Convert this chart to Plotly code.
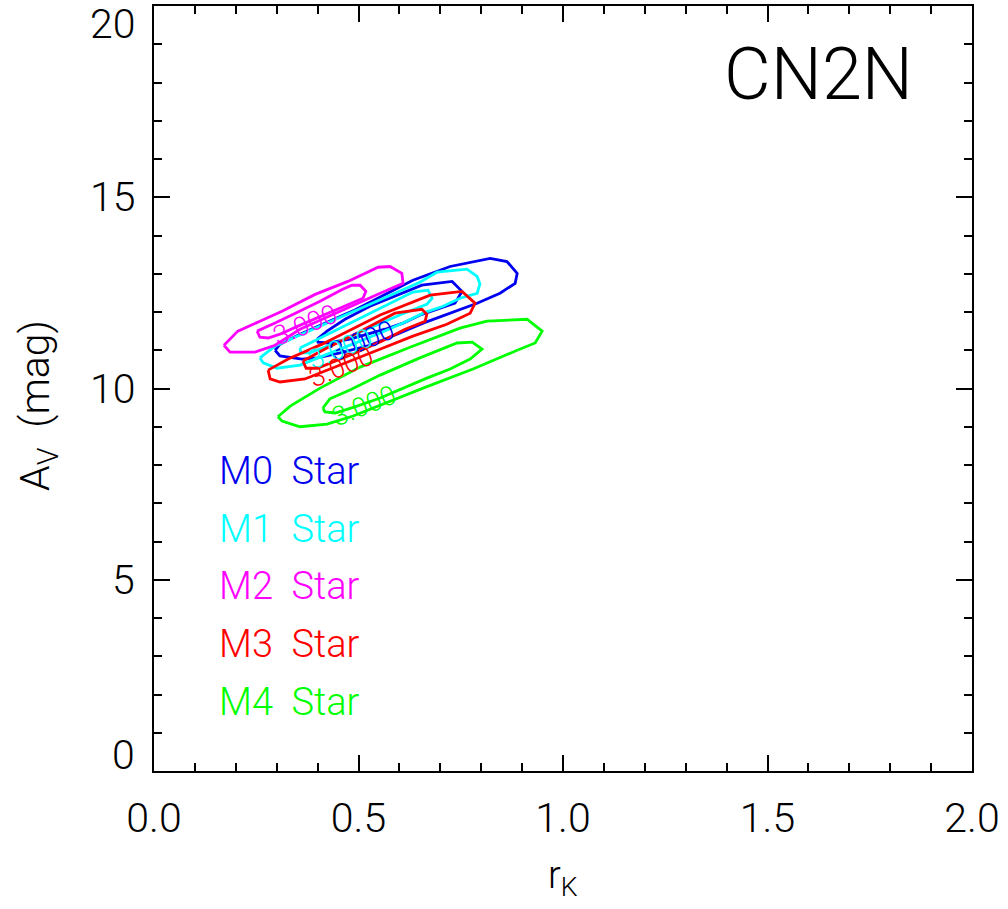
import plotly.graph_objects as go

# Confidence contours (r_K, A_V) for each spectral type: outer and inner level
M0_OUTER = [(0.296, 11.00), (0.308, 11.16), (0.357, 11.42), (0.430, 11.76), (0.491, 12.05),
            (0.553, 12.39), (0.633, 12.83), (0.724, 13.19), (0.822, 13.40), (0.863, 13.32),
            (0.888, 13.01), (0.883, 12.75), (0.846, 12.49), (0.790, 12.23), (0.716, 11.94),
            (0.658, 11.71), (0.594, 11.42), (0.528, 11.13), (0.455, 10.93), (0.399, 10.80),
            (0.362, 10.77), (0.308, 10.85)]
M0_INNER = [(0.399, 11.29), (0.423, 11.50), (0.467, 11.81), (0.528, 12.15), (0.655, 12.70),
            (0.729, 12.80), (0.753, 12.54), (0.736, 12.23), (0.655, 11.94), (0.609, 11.71),
            (0.565, 11.55), (0.479, 11.29), (0.425, 11.19), (0.401, 11.21)]

M1_OUTER = [(0.259, 10.80), (0.296, 11.11), (0.357, 11.40), (0.455, 11.86), (0.553, 12.33),
            (0.650, 12.78), (0.692, 13.04), (0.765, 13.12), (0.790, 12.93), (0.797, 12.73),
            (0.790, 12.49), (0.748, 12.36), (0.707, 12.15), (0.658, 11.97), (0.609, 11.71),
            (0.553, 11.45), (0.455, 11.03), (0.357, 10.61), (0.301, 10.53), (0.267, 10.67)]
M1_INNER = [(0.357, 11.06), (0.406, 11.32), (0.479, 11.71), (0.553, 12.10), (0.633, 12.52),
            (0.670, 12.57), (0.680, 12.36), (0.667, 12.20), (0.601, 11.92), (0.528, 11.58),
            (0.455, 11.24), (0.381, 10.93), (0.359, 10.93)]

M2_OUTER = [(0.171, 11.13), (0.205, 11.50), (0.259, 11.76), (0.313, 12.02), (0.394, 12.46),
            (0.474, 12.80), (0.548, 13.17), (0.577, 13.19), (0.606, 13.01), (0.609, 12.75),
            (0.553, 12.49), (0.455, 12.02), (0.357, 11.55), (0.296, 11.13), (0.247, 10.95),
            (0.186, 10.95)]
M2_INNER = [(0.252, 11.50), (0.296, 11.71), (0.352, 12.00), (0.406, 12.28), (0.460, 12.59),
            (0.484, 12.70), (0.504, 12.70), (0.518, 12.54), (0.511, 12.36), (0.460, 12.13),
            (0.406, 11.89), (0.352, 11.63), (0.308, 11.42), (0.279, 11.32), (0.259, 11.34)]

M3_OUTER = [(0.279, 10.48), (0.328, 10.77), (0.411, 11.16), (0.491, 11.60), (0.553, 11.92),
            (0.675, 12.44), (0.753, 12.54), (0.785, 12.23), (0.773, 11.97), (0.716, 11.68),
            (0.633, 11.37), (0.560, 11.06), (0.479, 10.72), (0.369, 10.25), (0.308, 10.17),
            (0.284, 10.25)]
M3_INNER = [(0.364, 10.72), (0.418, 11.03), (0.491, 11.42), (0.589, 11.97), (0.655, 12.07),
            (0.667, 11.94), (0.663, 11.76), (0.614, 11.55), (0.558, 11.24), (0.479, 10.87),
            (0.399, 10.53), (0.372, 10.53)]

M4_OUTER = [(0.303, 9.26), (0.333, 9.54), (0.406, 10.01), (0.504, 10.56), (0.626, 11.08),
            (0.748, 11.58), (0.814, 11.76), (0.912, 11.81), (0.949, 11.50), (0.932, 11.19),
            (0.888, 11.00), (0.780, 10.51), (0.658, 10.01), (0.553, 9.57), (0.487, 9.28),
            (0.423, 9.07), (0.357, 9.00), (0.313, 9.15)]
M4_INNER = [(0.413, 9.49), (0.430, 9.73), (0.479, 9.96), (0.553, 10.35), (0.650, 10.80),
            (0.741, 11.19), (0.778, 11.21), (0.802, 11.03), (0.773, 10.77), (0.724, 10.51),
            (0.667, 10.27), (0.609, 10.01), (0.553, 9.75), (0.491, 9.52), (0.443, 9.36),
            (0.418, 9.39)]

STAR_NAMES = ["M0", "M1", "M2", "M3", "M4"]
STAR_COLORS = ["#0000F0", "#00FFFF", "#FF00FF", "#FF0000", "#00FF00"]
CONTOURS = [(M0_OUTER, M0_INNER), (M1_OUTER, M1_INNER), (M2_OUTER, M2_INNER),
            (M3_OUTER, M3_INNER), (M4_OUTER, M4_INNER)]

# Contour level label ("3.000") positions along each star's contours
LEVEL_TEXT = "3.000"
LABEL_POS = [(0.509, 11.24), (0.455, 11.03), (0.369, 11.66), (0.457, 10.56), (0.513, 9.54)]

X_TICKS = [0.0, 0.5, 1.0, 1.5, 2.0]
Y_TICKS = [0, 5, 10, 15, 20]
FIELD = "CN2N"

FONT = "Roboto"
fig = go.Figure()

for (outer, inner), color in zip(CONTOURS, STAR_COLORS):
    for path in (outer, inner):
        closed = path + [path[0]]
        fig.add_trace(go.Scatter(
            x=[p[0] for p in closed], y=[p[1] for p in closed],
            mode="lines", line=dict(color=color, width=2.8),
            hoverinfo="skip", showlegend=False))

annotations = []
for (lx, ly), color in zip(LABEL_POS, STAR_COLORS):
    annotations.append(dict(x=lx, y=ly, xref="x", yref="y", text=LEVEL_TEXT,
                            showarrow=False, textangle=-22,
                            xanchor="center", yanchor="middle",
                            font=dict(family=FONT, size=27, color=color, weight=300)))

# Star-type key down the lower left
for i, (name, color) in enumerate(zip(STAR_NAMES, STAR_COLORS)):
    annotations.append(dict(x=0.154, y=7.85 - 1.51 * i, xref="x", yref="y",
                            text=f"{name}  Star", showarrow=False,
                            xanchor="left", yanchor="middle",
                            font=dict(family=FONT, size=38, color=color, weight=300)))

# y tick labels
for v in Y_TICKS:
    if v == max(Y_TICKS):
        anchor, shift = "top", 8
    elif v == min(Y_TICKS):
        anchor, shift = "bottom", -10
    else:
        anchor, shift = "middle", 0
    annotations.append(dict(x=0, y=v, xref="paper", yref="y", text=str(v),
                            showarrow=False, xanchor="right", yanchor=anchor,
                            xshift=-17, yshift=shift,
                            font=dict(family=FONT, size=41, color="black", weight=300)))

annotations.append(dict(x=0.5, y=-0.1395, xref="paper", yref="paper",
                        text="r<sub>K</sub>", showarrow=False,
                        xanchor="center", yanchor="middle",
                        font=dict(family=FONT, size=38, color="black", weight=300)))
annotations.append(dict(x=-0.141, y=0.478, xref="paper", yref="paper",
                        text="A<sub>V</sub>&nbsp; (mag)", showarrow=False, textangle=-90,
                        xanchor="center", yanchor="middle",
                        font=dict(family=FONT, size=41, color="black", weight=300)))
annotations.append(dict(x=0.930, y=0.910, xref="paper", yref="paper",
                        text=FIELD, showarrow=False, xanchor="right", yanchor="middle",
                        font=dict(family=FONT, size=72, color="black", weight=300)))

axis_common = dict(showline=True, linecolor="black", linewidth=2, mirror="ticks",
                   ticks="inside", tickcolor="black", tickwidth=2, ticklen=16,
                   showgrid=False, zeroline=False)

fig.update_layout(
    width=1008, height=909,
    margin=dict(l=154, r=36, t=4, b=138),
    paper_bgcolor="white", plot_bgcolor="white",
    xaxis=dict(range=[0, 2], tickvals=X_TICKS, ticktext=[f"{v:.1f}" for v in X_TICKS],
               minor=dict(ticks="inside", dtick=0.1, ticklen=8, tickwidth=2, tickcolor="black"),
               tickfont=dict(family=FONT, size=41, color="black", weight=300),
               ticklabelstandoff=10, **axis_common),
    yaxis=dict(range=[0, 20], tickvals=Y_TICKS, showticklabels=False,
               minor=dict(ticks="inside", dtick=1, ticklen=8, tickwidth=2, tickcolor="black"),
               **axis_common),
    annotations=annotations,
)

fig.write_html("out.html")
